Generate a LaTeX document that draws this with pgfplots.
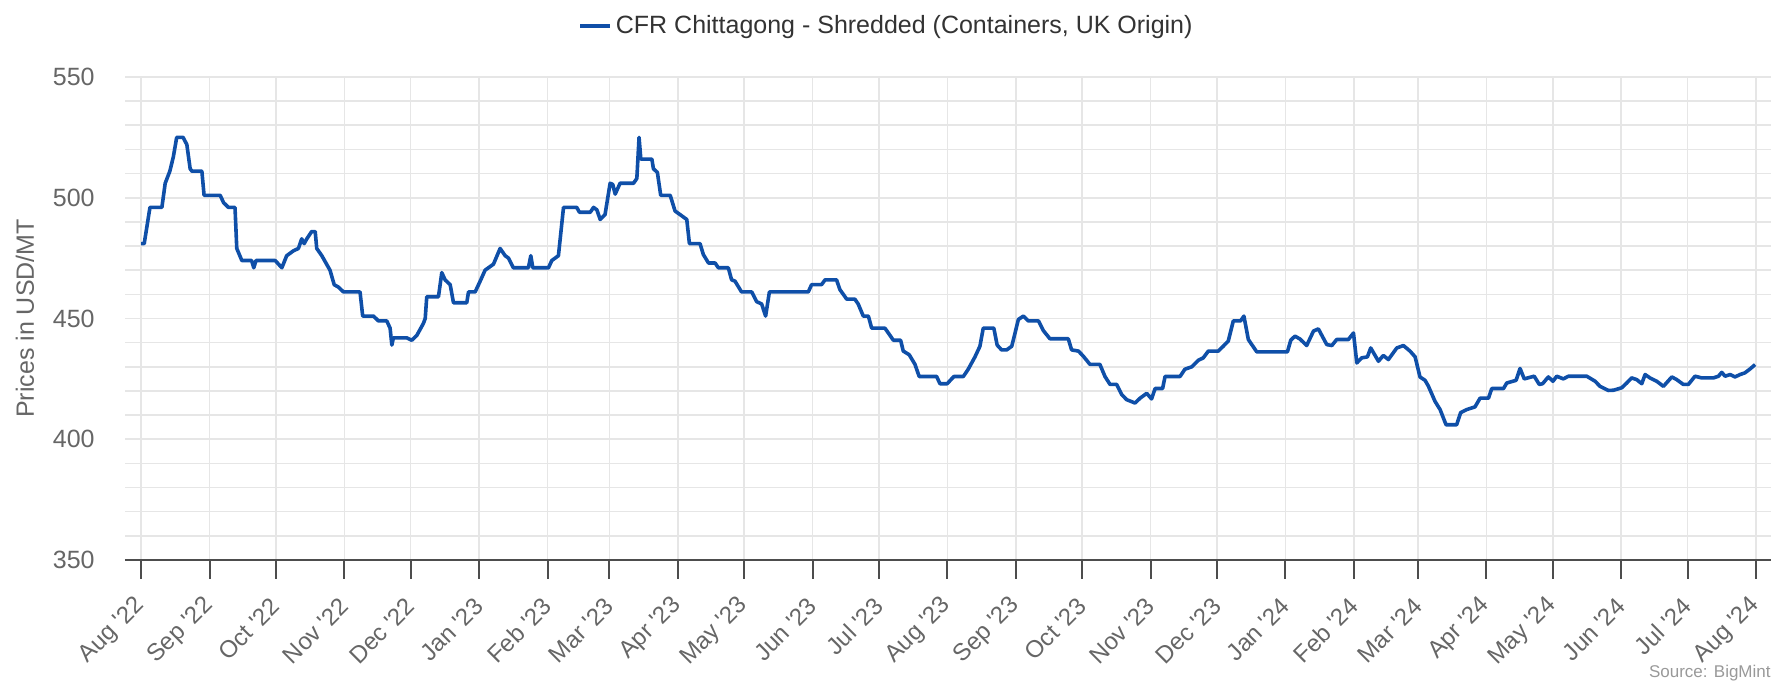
\documentclass[border=0pt]{standalone}
\usepackage{pgfplots}
\pgfplotsset{compat=1.18}
\usepackage{fontspec}
\setmainfont{Liberation Sans}[Ligatures=TeXOff]
\definecolor{linecol}{RGB}{15,79,168}
\definecolor{gridcol}{HTML}{E6E6E6}
\definecolor{axiscol}{HTML}{4D4D4D}
\definecolor{tickcol}{HTML}{666666}
\definecolor{legcol}{HTML}{333333}
\definecolor{srccol}{HTML}{999999}
\begin{document}
\begin{tikzpicture}
\begin{axis}[
  name=ax,
  scale only axis,
  width=823pt, height=241.5pt,
  xmin=-7.3, xmax=737.8,
  ymin=350, ymax=550,
  axis x line=bottom, axis y line=left,
  axis line style={-},
  x axis line style={draw=axiscol, line width=1pt},
  y axis line style={draw=none},
  xtick={0,31,61,92,122,153,184,212,243,273,304,334,365,396,426,457,487,518,549,578,609,639,670,700,731},
  xticklabels={Aug '22,Sep '22,Oct '22,Nov '22,Dec '22,Jan '23,Feb '23,Mar '23,Apr '23,May '23,Jun '23,Jul '23,Aug '23,Sep '23,Oct '23,Nov '23,Dec '23,Jan '24,Feb '24,Mar '24,Apr '24,May '24,Jun '24,Jul '24,Aug '24},
  ytick={350,400,450,500,550},
  minor ytick={360,370,380,390,410,420,430,440,460,470,480,490,510,520,530,540},
  grid=both,
  grid style={draw=gridcol, line width=0.8pt},
  minor grid style={draw=gridcol, line width=0.8pt},
  tick align=outside,
  major tick length=9.5pt,
  minor tick length=0pt,
  xtick style={draw=axiscol, line width=1pt},
  ytick style={draw=none},
  /pgf/number format/assume math mode=true,
  tick label style={font=\fontsize{12.5}{15}\selectfont, text=tickcol},
  xticklabel style={font=\fontsize{12}{14.4}\selectfont, yshift=-11.5pt, rotate=45, anchor=east, inner sep=0pt},
  yticklabel style={anchor=east, inner sep=0pt, xshift=-5.5pt},
  every axis y label/.style={at={(axis description cs:-0.0608,0.5)}, rotate=90, anchor=center, font=\fontsize{12.5}{15}\selectfont, text=tickcol},
  ylabel={Prices in USD/MT},
  legend style={at={(0.4632,1)}, anchor=center, yshift=25.5pt, draw=none, fill=none, font=\fontsize{12.5}{15}\selectfont, text=legcol},
  legend image code/.code={\draw[#1] (0pt,0pt) -- (15pt,0pt);},
]
\addplot[color=linecol, line width=1.8pt, line join=round] coordinates {
(0,481) (1.4,481) (4,496) (9.4,496) (10.9,506) (13,511) (14.6,517) (16.1,525) (19,525) (20.7,522) (22.2,512) (23,511) (27.5,511) (28.5,501) (35.8,501) (37.3,498) (39.5,496) (42.5,496) (43.3,479) (45.6,474) (50,474) (51,471) (52,474) (60.7,474) (63.7,471) (65.9,476) (68.9,478) (71.2,479) (72.7,483) (73.8,481) (75,483) (77.2,486) (78.8,486) (79.5,479) (81.8,476) (85.5,470) (87.4,464) (89.3,463) (91.6,461) (99.1,461) (100.3,451) (105.2,451) (107.4,449) (111.2,449) (112.7,446) (113.5,439) (114.2,442) (120.2,442) (122.5,441) (124.8,443) (127.8,448)
(128.6,450) (129.3,459) (134.6,459) (136.1,469) (137.6,466) (139.9,464) (141.4,456.5) (147.4,456.5) (148.2,461) (151.2,461) (153.5,465.5) (155.7,470) (159.5,472.5) (162.5,479) (164.8,476) (166.3,475) (168.5,471) (175.3,471) (176.4,476) (177.3,471) (184.4,471) (185.9,474) (188.9,476) (191.2,496) (197.2,496) (198.4,494) (203.3,494) (204.8,496) (206.3,495) (207.8,491) (210,493) (212.3,506) (213.5,505.5) (214.6,501.5) (216.8,506) (222.9,506) (224.4,508) (225.4,525) (226.2,516) (231.2,516) (231.9,512) (233.7,510.5) (235.2,501) (239.5,501) (241.7,494.5) (244,493) (247,491) (248.2,481) (253,481) (254.5,476.5) (256.8,473) (259.8,473)
(261.3,471) (265.8,471) (267.3,466) (268.8,465.5) (271.8,461) (276.4,461) (278.6,457) (280.9,456) (282.7,451) (284.4,461) (302,461) (303.5,464) (308,464) (309.6,466) (314.8,466) (316.3,462) (319.4,458) (323.1,458) (324.6,456) (326.9,451) (329.2,451) (330.7,446) (336.7,446) (339,443) (340.5,441) (343.8,441) (345,436.5) (347.7,435) (350.3,431) (352.2,426) (360.1,426) (361.6,423) (364.9,423) (366.9,425) (368,426) (372.2,426) (374.4,429) (377.4,434) (379.7,438.5) (381.2,446) (386,446) (387.5,439) (389.5,437)
(391.8,437) (394.1,438.5) (395.6,444) (397.1,449.6) (399.4,451) (401.6,449) (406.2,449) (408.4,445) (411.4,441.6) (419.7,441.6) (421.2,437) (424.3,436.5) (426.5,434.4) (429.5,431) (434,431) (436.3,426) (438.6,422.7) (441.6,422.7) (443.9,418.5) (446.1,416.4) (449.9,415) (452.2,417) (455.2,419) (457.4,416.7) (459,421) (462.4,421) (463.5,426) (470.3,426) (472.5,429) (475.6,430) (478.6,432.7) (480.8,433.7) (483.1,436.5) (487.6,436.5) (489.6,438.3) (492.1,440.6) (494.4,449) (497.7,449) (499.2,451) (501.2,441.3) (505,436.2) (518.9,436.2) (520.4,441) (522.3,442.7) (524.6,441.5)
(527.6,438.8) (530.7,444.8) (532.9,445.7) (536.7,439.2) (539,438.8) (541.2,441.3) (546.5,441.3) (548.8,444) (550.3,431.6) (552.5,433.7) (555.1,434.1) (556.6,437.8) (560.1,432.3) (562.3,434.7) (564.6,433) (568.4,437.8) (571.4,438.8) (574.4,436.5) (576.7,434.1) (578.9,425.8) (581.2,424.4) (582.7,422) (585.7,415.7) (588,412.3) (590.7,406) (595.5,406) (597.3,411) (600.1,412.3) (603.8,413.4) (606.1,417) (609.9,417) (611.4,421) (616.7,421) (618.2,423.3) (622.4,424.4) (624.2,429.3) (626.1,425) (630.6,426.1) (632.9,422.7) (634.4,423) (637,425.8) (639.1,424) (640.8,426.1) (643.8,425) (646.1,426.1) (654.4,426.1)
(658.2,424) (660.4,421.9) (664.2,420.2) (666.5,420.3) (670.2,421.3) (672.5,423.3) (674.7,425.4) (677,424.7) (679.3,423) (680.8,426.8) (683,425.4) (686.1,424) (689.1,421.9) (692.9,425.8) (695.1,424.7) (698.1,422.7) (700.4,422.7) (703.4,426.1) (706.4,425.4) (711.7,425.4) (714,426.1) (715.5,427.7) (717,426.1) (719.3,426.8) (721.5,425.8) (723.8,426.8) (726,427.5) (728.3,429.1) (730.6,430.9)
};
\addlegendentry{CFR Chittagong - Shredded (Containers, UK Origin)}
\end{axis}
\node[anchor=east, inner sep=0pt, font=\fontsize{8.5}{10}\selectfont, text=srccol] at ([yshift=-56.5pt]ax.south east) {Source: BigMint};
\pgfresetboundingbox
\path[use as bounding box] ([shift={(-62.5pt,-62pt)}]ax.south west) rectangle ([shift={(7pt,38.5pt)}]ax.north east);
\end{tikzpicture}
\end{document}
